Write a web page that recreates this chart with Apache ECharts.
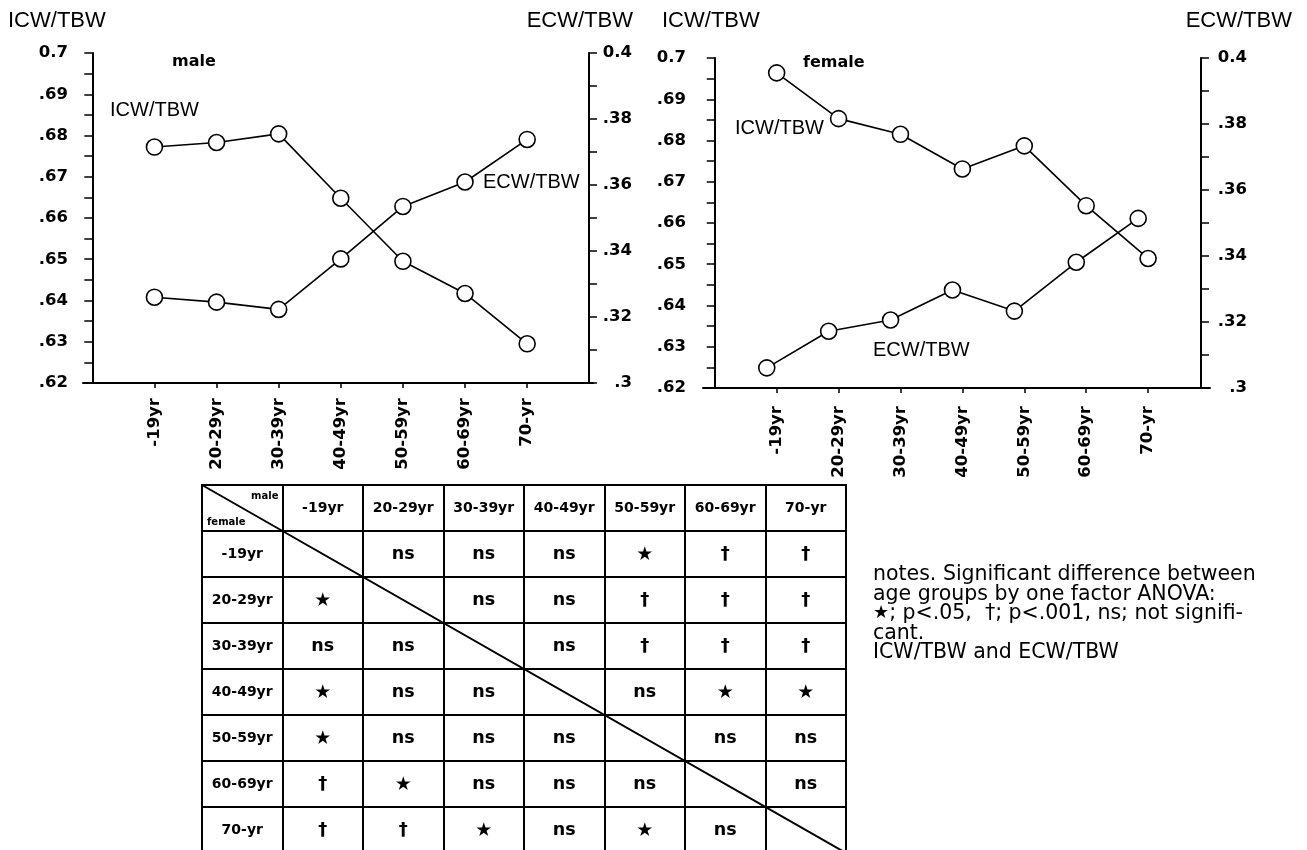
<!DOCTYPE html>
<html>
<head>
<meta charset="utf-8">
<script src="https://cdn.jsdelivr.net/npm/echarts@6/dist/echarts.min.js"></script>
<style>
  html, body { margin: 0; padding: 0; background: #fff; }
  #chart { width: 1307px; height: 850px; }
</style>
</head>
<body>
<div id="chart"></div>
<script>
// Age groups (x categories and table headers)
const ageGroups = ['-19yr', '20-29yr', '30-39yr', '40-49yr', '50-59yr', '60-69yr', '70-yr'];

// Body water ratios by age group
const maleICW   = [0.6772, 0.6783, 0.6804, 0.6648, 0.6495, 0.6417, 0.6295];
const maleECW   = [0.3260, 0.3245, 0.3223, 0.3376, 0.3535, 0.3609, 0.3738];
const femaleICW = [0.6964, 0.6853, 0.6815, 0.6731, 0.6787, 0.6642, 0.6514];
const femaleECW = [0.3061, 0.3172, 0.3206, 0.3297, 0.3233, 0.3381, 0.3514];

// Axis ranges
const icwRange = [0.62, 0.70];
const ecwRange = [0.30, 0.40];

// One factor ANOVA between age groups: rows = female, columns = male
const significance = [
  ['',   'ns', 'ns', 'ns', '★',  '†',  '†'],
  ['★',  '',   'ns', 'ns', '†',  '†',  '†'],
  ['ns', 'ns', '',   'ns', '†',  '†',  '†'],
  ['★',  'ns', 'ns', '',   'ns', '★',  '★'],
  ['★',  'ns', 'ns', 'ns', '',   'ns', 'ns'],
  ['†',  '★',  'ns', 'ns', 'ns', '',   'ns'],
  ['†',  '†',  '★',  'ns', '★',  'ns', '']
];

const noteLines = [
  'notes. Significant difference between',
  'age groups by one factor ANOVA:',
  '{star|★}; p<.05,  †; p<.001, ns; not signifi-',
  'cant.',
  'ICW/TBW and ECW/TBW'
];

const BLACK = '#000';
const TICK_FONT = { fontFamily: 'DejaVu Sans', fontWeight: 'bold', fontSize: 16.5, color: BLACK };
const positions = ageGroups.map((_, i) => i + 1);

// ".69" style labels, the top value keeps its leading zero
function ratioLabel(top) {
  return function (v) {
    const r = Math.round(v * 1000) / 1000;
    if (Math.abs(r - top) < 1e-9) return r.toFixed(1);
    return String(r).replace(/^0/, '');
  };
}

function categoryX(gridIndex, min, max, margin, show) {
  return {
    type: 'value', gridIndex, min, max, show: show !== false,
    axisLine: { show: true, onZero: false, lineStyle: { color: BLACK, width: 2 } },
    axisTick: { show: true, customValues: positions, length: 5, lineStyle: { color: BLACK, width: 1.5 } },
    axisLabel: Object.assign({
      customValues: positions, rotate: 90, margin,
      formatter: v => ageGroups[Math.round(v) - 1] || ''
    }, TICK_FONT),
    splitLine: { show: false }
  };
}

function ratioY(gridIndex, position, range, interval, opts) {
  return {
    type: 'value', gridIndex, position, min: range[0], max: range[1], interval,
    offset: opts.offset || 0,
    axisLine: Object.assign({ show: true, lineStyle: { color: BLACK, width: 2 } }, opts.line),
    axisTick: { show: true, length: 8, lineStyle: { color: BLACK, width: 1.5 } },
    minorTick: { show: true, splitNumber: 2, length: 8, lineStyle: { color: BLACK, width: 1.5 } },
    axisLabel: Object.assign({
      margin: opts.margin, align: opts.align, formatter: ratioLabel(range[1])
    }, TICK_FONT),
    splitLine: { show: false },
    minorSplitLine: { show: false }
  };
}

function ratioSeries(values, xAxisIndex, yAxisIndex) {
  return {
    type: 'line', xAxisIndex, yAxisIndex,
    data: values.map((v, i) => [i + 1, v]),
    symbol: 'circle', symbolSize: 16,
    itemStyle: { color: '#fff', borderColor: BLACK, borderWidth: 1.6 },
    lineStyle: { color: BLACK, width: 1.6 },
    emphasis: { disabled: true },
    z: 3
  };
}

function label(x, y, text, font, align) {
  return {
    type: 'text', x, y, silent: true,
    style: { text, font, fill: BLACK, align: align || 'left', verticalAlign: 'middle' }
  };
}

// table cells: [column, row] with header row/column at index 0
const tableCells = [];
const tableTexts = [];
for (let r = 0; r <= ageGroups.length; r++) {
  for (let c = 0; c <= ageGroups.length; c++) {
    tableCells.push([c, r]);
    if (r === 0 && c === 0) tableTexts.push(null);
    else if (r === 0) tableTexts.push(ageGroups[c - 1]);
    else if (c === 0) tableTexts.push(ageGroups[r - 1]);
    else tableTexts.push(significance[r - 1][c - 1]);
  }
}

function cellFont(text, isHeader) {
  if (isHeader) return 'bold 14px "DejaVu Sans"';
  if (text === '★') return '19px "DejaVu Sans"';
  if (text === '†') return 'bold 18px "DejaVu Sans"';
  return 'bold 17.5px "DejaVu Sans"';
}

function renderCell(params, api) {
  const c = api.value(0), r = api.value(1);
  const p = api.coord([c, r]);
  const s = api.size([1, 1]);
  const text = tableTexts[params.dataIndex];
  if (text === null) {
    return {
      type: 'group',
      children: [
        { type: 'text', x: p[0] + s[0] / 2 - 4, y: p[1] - s[1] / 2 + 11,
          style: { text: 'male', font: 'bold 10px "DejaVu Sans"', fill: BLACK, align: 'right', verticalAlign: 'middle' } },
        { type: 'text', x: p[0] - s[0] / 2 + 5, y: p[1] + s[1] / 2 - 9,
          style: { text: 'female', font: 'bold 10px "DejaVu Sans"', fill: BLACK, align: 'left', verticalAlign: 'middle' } }
      ]
    };
  }
  return {
    type: 'text', x: p[0], y: p[1] + (text === '★' ? 1 : 0),
    style: { text, font: cellFont(text, r === 0 || c === 0), fill: BLACK, align: 'center', verticalAlign: 'middle' }
  };
}

function renderDiagonal(params, api) {
  const n = ageGroups.length;
  const s = api.size([1, 1]);
  const a = api.coord([0, 0]);
  const b = api.coord([n, n]);
  return {
    type: 'line',
    shape: { x1: a[0] - s[0] / 2, y1: a[1] - s[1] / 2, x2: b[0] + s[0] / 2, y2: b[1] + s[1] / 2 },
    style: { stroke: BLACK, lineWidth: 2 }
  };
}

const tableAxisData = [''].concat(ageGroups);
const tableSplit = { show: true, interval: 0, lineStyle: { color: BLACK, width: 2 } };

const option = {
  animation: false,
  backgroundColor: '#fff',
  grid: [
    { left: 83, top: 53, width: 510, height: 330, outerBoundsMode: 'none' },
    { left: 703, top: 58, width: 507, height: 330, outerBoundsMode: 'none' },
    { left: 202, top: 485, width: 644, height: 368, outerBoundsMode: 'none',
      show: true, borderColor: BLACK, borderWidth: 2, backgroundColor: 'transparent' }
  ],
  xAxis: [
    categoryX(0, -0.15, 8.06, 15),
    categoryX(1, -0.19, 8.0, 18),
    categoryX(1, -0.03, 8.16, 18, false),
    { type: 'category', gridIndex: 2, position: 'top', data: tableAxisData,
      axisLine: { show: false }, axisTick: { show: false }, axisLabel: { show: false }, splitLine: tableSplit }
  ],
  yAxis: [
    ratioY(0, 'left', icwRange, 0.01, { margin: 15, align: 'right', line: { onZero: true, onZeroAxisIndex: 0 } }),
    ratioY(0, 'right', ecwRange, 0.02, { margin: 43, align: 'right', offset: -4, line: { onZero: false } }),
    ratioY(1, 'left', icwRange, 0.01, { margin: 17, align: 'right', line: { onZero: true, onZeroAxisIndex: 1 } }),
    ratioY(1, 'right', ecwRange, 0.02, { margin: 46, align: 'right', offset: -9, line: { onZero: false } }),
    { type: 'category', gridIndex: 2, inverse: true, data: tableAxisData,
      axisLine: { show: false }, axisTick: { show: false }, axisLabel: { show: false }, splitLine: tableSplit }
  ],
  series: [
    ratioSeries(maleICW, 0, 0),
    ratioSeries(maleECW, 0, 1),
    ratioSeries(femaleICW, 1, 2),
    ratioSeries(femaleECW, 2, 3),
    { type: 'custom', xAxisIndex: 3, yAxisIndex: 4, data: tableCells, renderItem: renderCell, silent: true, z: 4 },
    { type: 'custom', xAxisIndex: 3, yAxisIndex: 4, data: [[0, 0]], renderItem: renderDiagonal, silent: true, z: 5, clip: false }
  ],
  graphic: [
    label(8, 21, 'ICW/TBW', '22px "Liberation Sans"'),
    label(633, 21, 'ECW/TBW', '22px "Liberation Sans"', 'right'),
    label(662, 21, 'ICW/TBW', '22px "Liberation Sans"'),
    label(1292, 21, 'ECW/TBW', '22px "Liberation Sans"', 'right'),
    label(172, 62, 'male', 'bold 16px "DejaVu Sans"'),
    label(110, 110, 'ICW/TBW', '20px "Liberation Sans"'),
    label(483, 182, 'ECW/TBW', '20px "Liberation Sans"'),
    label(803, 63, 'female', 'bold 16px "DejaVu Sans"'),
    label(735, 128, 'ICW/TBW', '20px "Liberation Sans"'),
    label(873, 350, 'ECW/TBW', '20px "Liberation Sans"'),
    {
      type: 'text', x: 873, y: 565, silent: true,
      style: {
        text: noteLines.join('\n'),
        font: '20.5px "DejaVu Sans"', fill: BLACK, lineHeight: 19.5,
        align: 'left', verticalAlign: 'top',
        rich: { star: { fontFamily: 'DejaVu Sans', fontSize: 18, fill: BLACK, lineHeight: 19.5 } }
      }
    }
  ]
};

const chart = echarts.init(document.getElementById('chart'), null, { renderer: 'canvas' });
chart.setOption(option);
</script>
</body>
</html>
